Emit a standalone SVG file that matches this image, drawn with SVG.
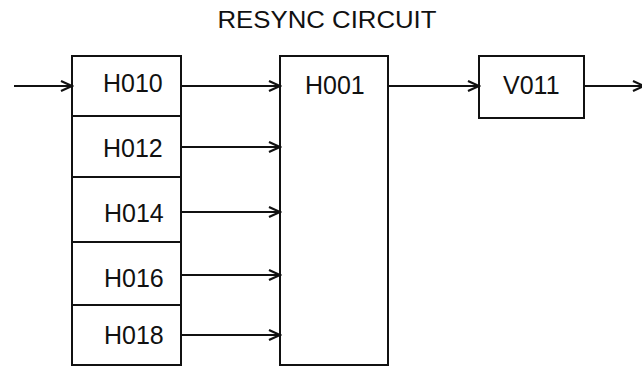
<svg xmlns="http://www.w3.org/2000/svg" width="642" height="367" viewBox="0 0 642 367">
<style>
.box{fill:#fff;stroke:#111;stroke-width:2}
.lbl{font-family:"Liberation Sans",Arial,sans-serif;font-size:25px;fill:#111}
.ttl{font-family:"Liberation Sans",Arial,sans-serif;font-size:24px;fill:#111}
.wire{fill:none;stroke:#111;stroke-width:2}
</style>
<defs>
<marker id="ah" markerWidth="14" markerHeight="12" refX="12" refY="6" orient="auto" markerUnits="userSpaceOnUse">
<path d="M1,1 L12,6 L1,11" fill="none" stroke="#111" stroke-width="2.2"/>
</marker>
</defs>
<rect width="642" height="367" fill="#fff"/>
<text class="ttl" x="327" y="28" text-anchor="middle" textLength="219" lengthAdjust="spacingAndGlyphs">RESYNC CIRCUIT</text>
<g id="H010"><rect class="box" x="72" y="56" width="109" height="60"/><text class="lbl" x="103" y="92">H010</text></g>
<g id="H012"><rect class="box" x="72" y="116" width="109" height="61"/><text class="lbl" x="103" y="157">H012</text></g>
<g id="H014"><rect class="box" x="72" y="177" width="109" height="65"/><text class="lbl" x="104" y="222">H014</text></g>
<g id="H016"><rect class="box" x="72" y="242" width="109" height="63"/><text class="lbl" x="104" y="287">H016</text></g>
<g id="H018"><rect class="box" x="72" y="305" width="109" height="60"/><text class="lbl" x="104" y="344">H018</text></g>
<g id="H001"><rect class="box" x="280" y="56" width="108" height="309"/><text class="lbl" x="305" y="94">H001</text></g>
<g id="V011"><rect class="box" x="479" y="56" width="105" height="62"/><text class="lbl" x="503" y="94">V011</text></g>
<g id="connectors">
<line class="wire" x1="14" y1="86" x2="72" y2="86" marker-end="url(#ah)"/>
<line class="wire" x1="181" y1="86" x2="280" y2="86" marker-end="url(#ah)"/>
<line class="wire" x1="181" y1="147" x2="280" y2="147" marker-end="url(#ah)"/>
<line class="wire" x1="181" y1="212" x2="280" y2="212" marker-end="url(#ah)"/>
<line class="wire" x1="181" y1="275" x2="280" y2="275" marker-end="url(#ah)"/>
<line class="wire" x1="181" y1="335" x2="280" y2="335" marker-end="url(#ah)"/>
<line class="wire" x1="388" y1="86" x2="479" y2="86" marker-end="url(#ah)"/>
<line class="wire" x1="584" y1="86" x2="644" y2="86" marker-end="url(#ah)"/>
</g>
</svg>
